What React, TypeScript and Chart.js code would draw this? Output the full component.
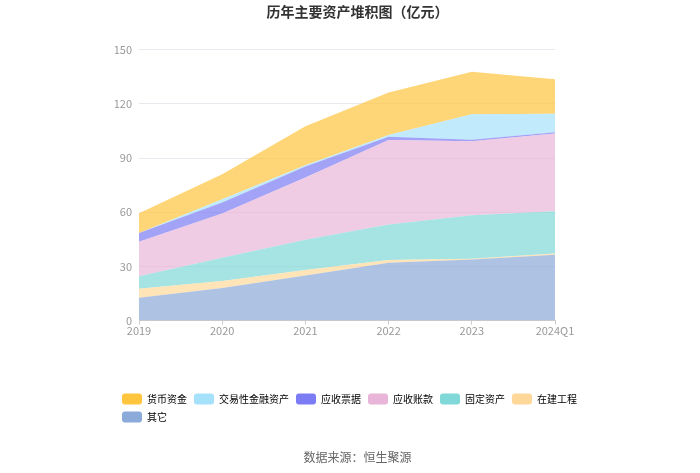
import { useEffect, useRef } from "react";
import { Chart, registerables, ChartConfiguration } from "chart.js";

Chart.register(...registerables);

const years = ["2019", "2020", "2021", "2022", "2023", "2024Q1"];

// 亿元, stacked from the bottom up
const qita = [12.6, 18.1, 25.0, 32.0, 33.9, 36.5];
const zaijian = [5.0, 3.8, 3.0, 1.5, 0.4, 0.7];
const guding = [7.0, 12.9, 16.8, 19.8, 24.0, 23.4];
const zhangkuan = [19.1, 24.5, 34.5, 46.7, 41.0, 43.1];
const piaoju = [4.8, 6.1, 6.1, 1.9, 0.9, 0.6];
const jiaoyi = [0.0, 1.8, 0.7, 0.9, 14.1, 10.3];
const huobi = [10.9, 13.9, 21.5, 23.5, 23.5, 19.1];

const yTicks = [0, 30, 60, 90, 120, 150];

const series = [
  { label: "其它", data: qita, color: "140,170,217" },
  { label: "在建工程", data: zaijian, color: "255,216,153" },
  { label: "固定资产", data: guding, color: "128,216,216" },
  { label: "应收账款", data: zhangkuan, color: "232,181,216" },
  { label: "应收票据", data: piaoju, color: "123,124,243" },
  { label: "交易性金融资产", data: jiaoyi, color: "166,225,251" },
  { label: "货币资金", data: huobi, color: "255,197,61" },
];

const FONT = "'Noto Sans CJK SC', 'Noto Sans', sans-serif";

const App = () => {
  const chartRef = useRef<HTMLCanvasElement | null>(null);
  const chartInstance = useRef<Chart | null>(null);

  useEffect(() => {
    if (!chartRef.current) return;
    if (chartInstance.current) chartInstance.current.destroy();
    const ctx = chartRef.current.getContext("2d");
    if (!ctx) return;

    const config: ChartConfiguration = {
      type: "line",
      data: {
        labels: years,
        datasets: series.map((s, i) => ({
          label: s.label,
          data: s.data,
          fill: i === 0 ? "origin" : "-1",
          backgroundColor: `rgba(${s.color},0.7)`,
          borderColor: `rgba(${s.color},0.7)`,
          borderWidth: 0,
          pointRadius: 0,
          tension: 0,
        })),
      },
      options: {
        animation: false,
        responsive: false,
        layout: { padding: { left: 115, right: 100, top: 0, bottom: 0 } },
        plugins: {
          title: {
            display: true,
            text: "历年主要资产堆积图（亿元）",
            color: "#333",
            font: { family: FONT, size: 14, weight: "bold" },
            padding: { top: 3, bottom: 30 },
          },
          subtitle: {
            display: true,
            position: "bottom",
            text: "数据来源：恒生聚源",
            color: "#666",
            font: { family: FONT, size: 12 },
            padding: { top: 18, bottom: 8 },
          },
          legend: {
            position: "bottom",
            align: "start",
            labels: {
              boxWidth: 20,
              boxHeight: 11,
              padding: 7,
              color: "#555",
              font: { family: FONT, size: 10, lineHeight: 1.45 },
              useBorderRadius: true,
              borderRadius: 3,
              sort: (a, b) => (b.datasetIndex ?? 0) - (a.datasetIndex ?? 0),
              generateLabels: (chart) =>
                chart.data.datasets.map((ds, i) => ({
                  text: ds.label as string,
                  fillStyle: `rgb(${series[i].color})`,
                  strokeStyle: `rgb(${series[i].color})`,
                  lineWidth: 0,
                  hidden: !chart.isDatasetVisible(i),
                  datasetIndex: i,
                  borderRadius: 3,
                })),
            },
          },
          tooltip: { enabled: false },
        },
        scales: {
          x: {
            offset: false,
            grid: { display: true, drawOnChartArea: false, drawTicks: true, tickLength: 4, color: "#ccc" },
            border: { display: true, color: "#ccc" },
            ticks: {
              color: "#999",
              font: { family: FONT, size: 11 },
              padding: 0,
              maxRotation: 0,
            },
            afterFit: (scale) => {
              scale.height = 66;
            },
          },
          y: {
            stacked: true,
            min: 0,
            max: 150,
            afterBuildTicks: (scale) => {
              scale.ticks = yTicks.map((v) => ({ value: v }));
            },
            grid: { color: "#e8e8ee", drawTicks: false },
            border: { display: false },
            ticks: {
              color: "#999",
              font: { family: FONT, size: 11 },
              padding: 7,
            },
            afterFit: (scale) => {
              scale.width = 24;
            },
          },
          pad: {
            position: "right",
            display: true,
            grid: { display: false },
            border: { display: false },
            ticks: { display: false },
            afterFit: (scale) => {
              scale.width = 45;
            },
          },
        },
      },
    } as ChartConfiguration;

    chartInstance.current = new Chart(ctx, config);
    return () => {
      chartInstance.current?.destroy();
    };
  }, []);

  return (
    <div style={{ position: "fixed", left: 0, top: 0, width: 700, height: 473, background: "#fff" }}>
      <canvas ref={chartRef} width={700} height={473} />
    </div>
  );
};

export default App;
